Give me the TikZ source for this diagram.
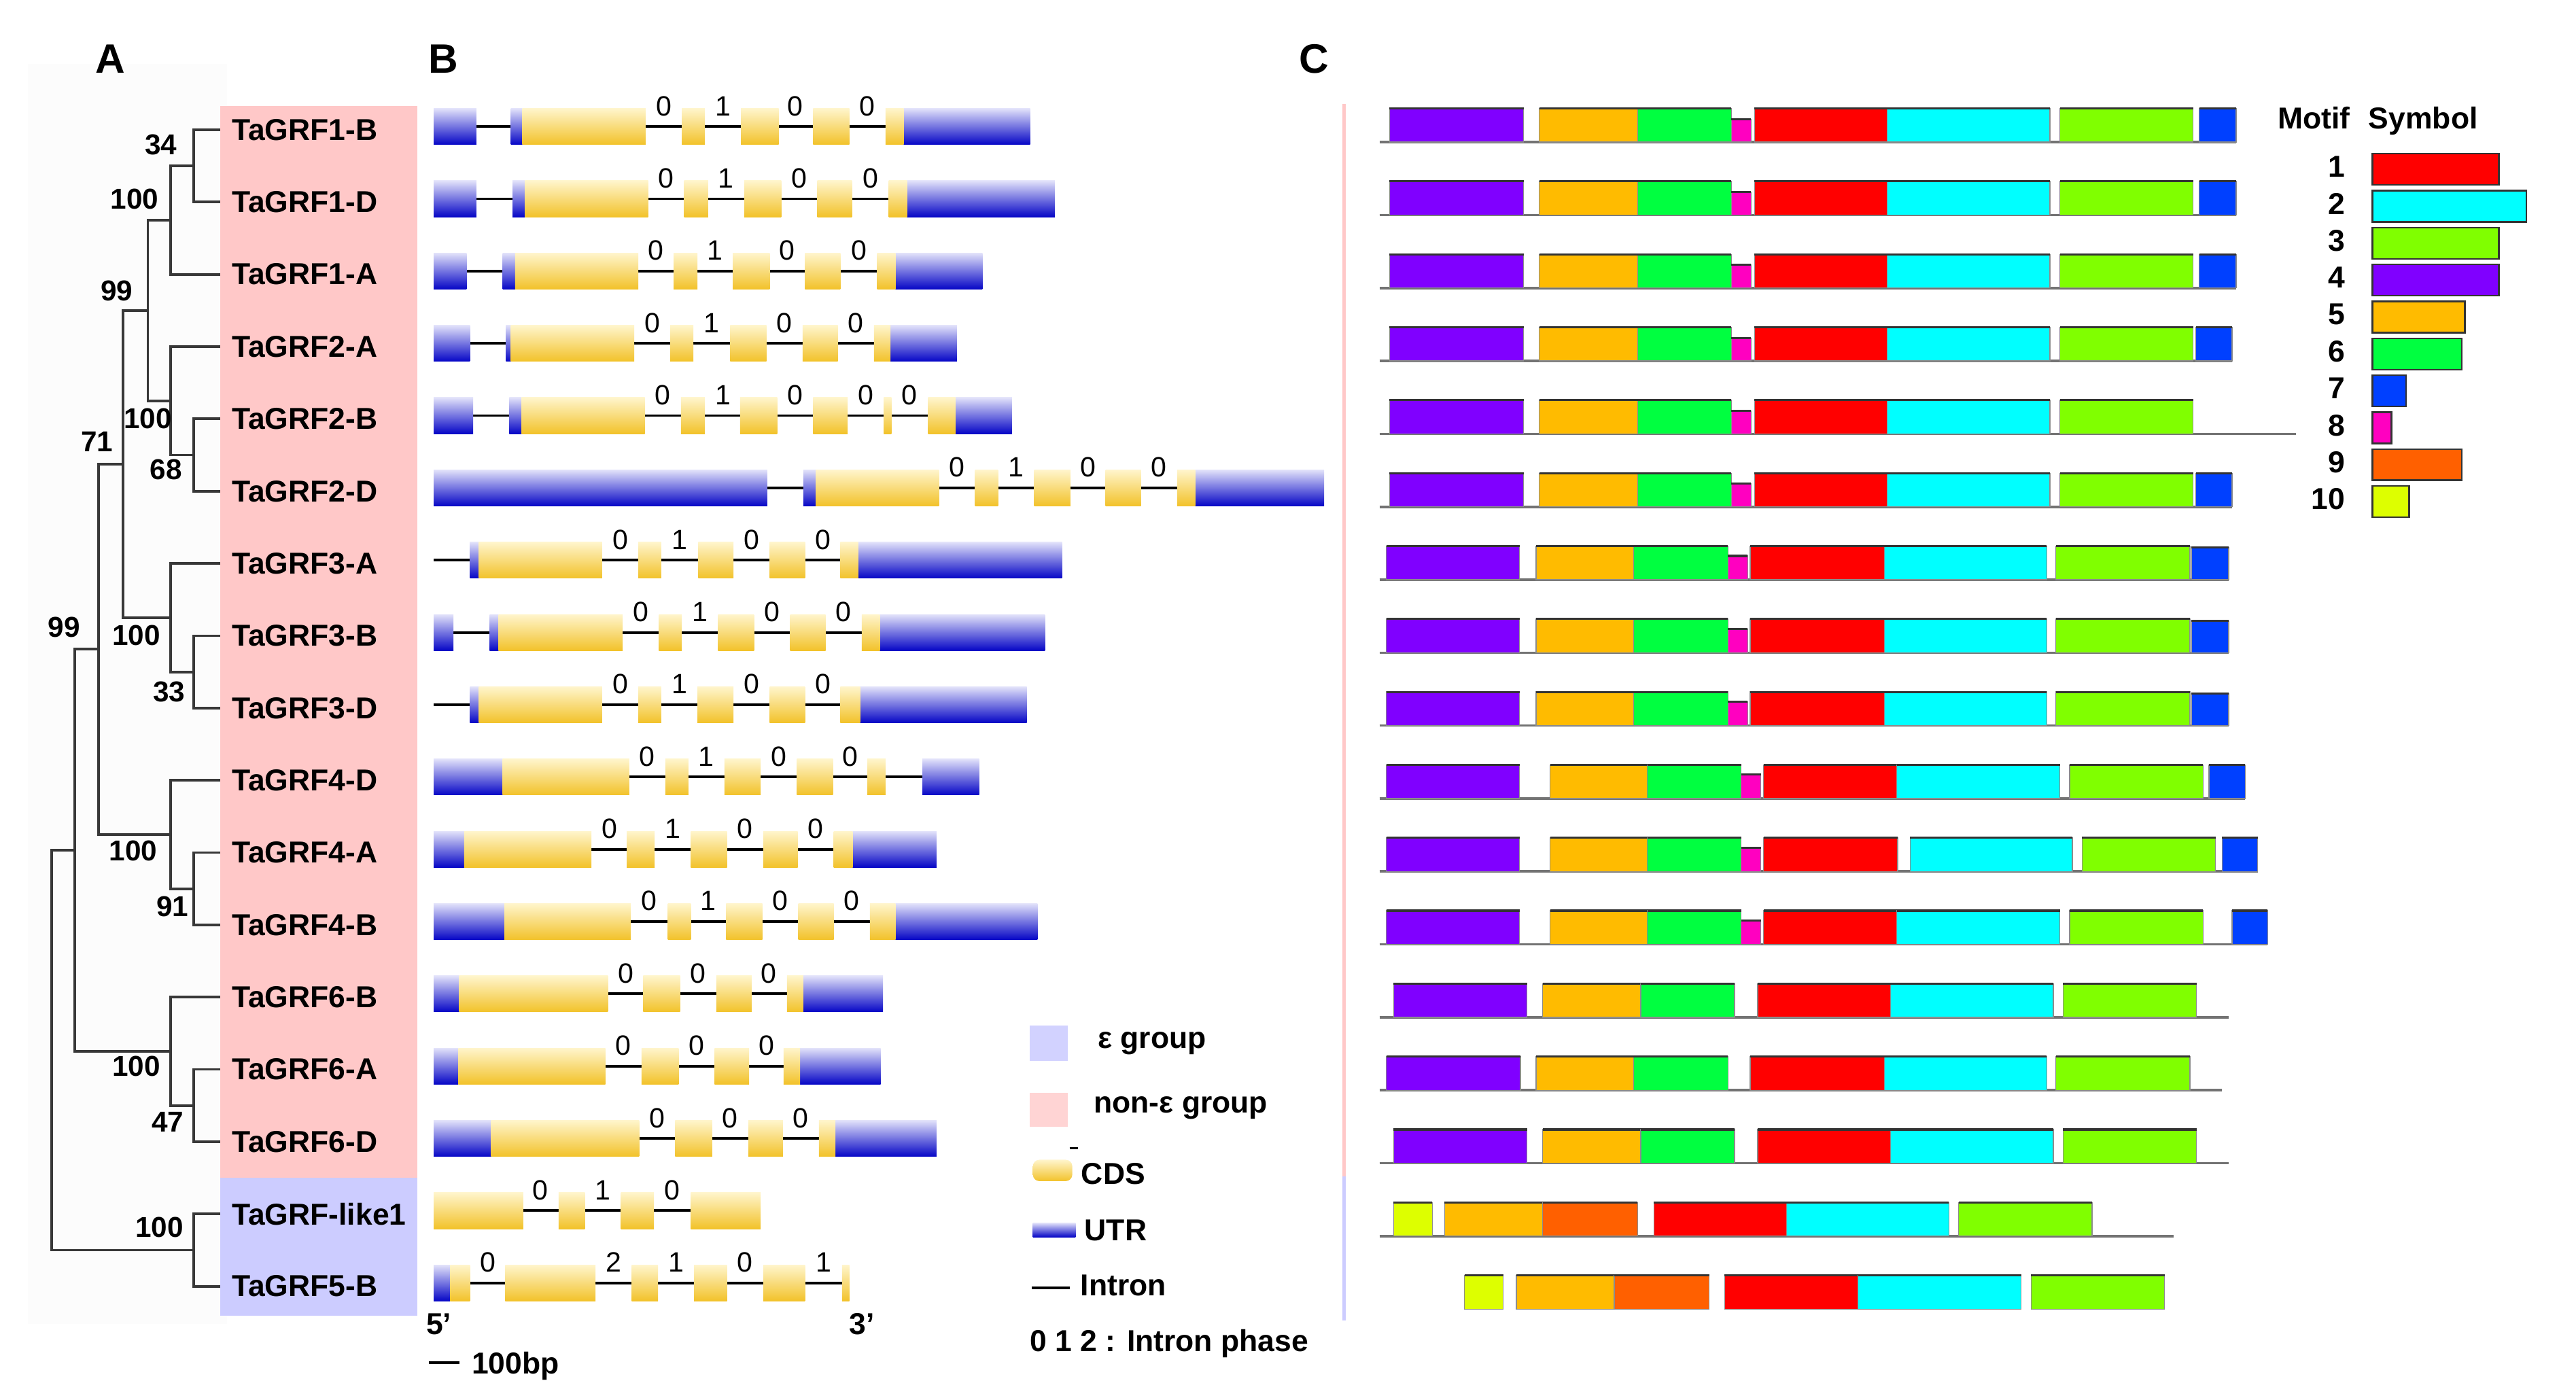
\documentclass[tikz,border=0pt]{standalone}
\usepackage{fontspec}
\setmainfont{Liberation Sans}
\usetikzlibrary{positioning}

\definecolor{nonepink}{HTML}{FFC8C8}
\definecolor{epsblue}{HTML}{CCCCFF}
\definecolor{legpink}{HTML}{FFD4D4}
\definecolor{legblue}{HTML}{D2D2FF}
\definecolor{utrtop}{HTML}{E2E2FA}
\definecolor{utrbot}{HTML}{0606C6}
\definecolor{cdstop}{HTML}{FFF5CC}
\definecolor{cdsbot}{HTML}{F2C22A}
\definecolor{m1}{HTML}{FF0000}
\definecolor{m2}{HTML}{00FFFF}
\definecolor{m3}{HTML}{80FF00}
\definecolor{m4}{HTML}{8000FF}
\definecolor{m5}{HTML}{FFBB00}
\definecolor{m6}{HTML}{00FF40}
\definecolor{m7}{HTML}{0040FF}
\definecolor{m8}{HTML}{FF00C0}
\definecolor{m9}{HTML}{FF6000}
\definecolor{m10}{HTML}{DDFF00}

\tikzset{
  branch/.style={draw=black!78, line width=1.6pt},
  taxon/.style={anchor=west, inner xsep=7pt, inner ysep=0pt, font=\bfseries\fontsize{18.4}{20}\selectfont},
  boot/.style={inner sep=0pt, font=\bfseries\fontsize{17.5}{19}\selectfont},
  panel/.style={inner sep=0pt, font=\bfseries\fontsize{25}{28}\selectfont},
  intron/.style={draw=black, line width=1.6pt},
  utr/.style={top color=utrtop, bottom color=utrbot},
  cds/.style={top color=cdstop, bottom color=cdsbot},
  phasenum/.style={inner sep=0pt, font=\fontsize{17}{19}\selectfont},
  legtext/.style={anchor=base west, inner sep=0pt, font=\bfseries\fontsize{18.4}{20}\selectfont},
  sideline/.style={line width=2pt},
  backbone/.style={draw=black!55, line width=1.5pt},
  motiftop/.style={draw=black!80, line width=1.3pt},
}

\newcommand{\exons}[3]{\foreach \a/\b in {#3}{\shade[#1] (\a,#2-11) rectangle (\b,#2+11);}}
\newcommand{\phases}[2]{\foreach \x/\p [count=\k] in {#2}{\node[phasenum] (ph#1n\k) at (\x,#1-12.5) {\p};}}
\newcommand{\backline}[2]{\draw[backbone] (839.7,#1+20.5) -- (#2,#1+20.5);}
\newcommand{\motifs}[2]{\foreach \c/\a/\b/\o in {#2}{%
  \filldraw[fill=\c, draw=black!45, line width=0.5pt] (\a,#1+\o) rectangle (\b,#1+20.5);
  \draw[motiftop] (\a,#1+\o) -- (\b,#1+\o);}}

\begin{document}
\begin{tikzpicture}[x=1pt, y=-1pt]
\useasboundingbox (0,0) rectangle (1568,852);
\fill[white] (0,0) rectangle (1568,852);

\fill[black!1] (17,39) rectangle (138,806);
\fill[nonepink] (134,64.5) rectangle (254,717);
\fill[epsblue] (134,717) rectangle (254,801);

\node[panel] (la) at (67,36) {A};
\node[panel] (lb) at (270,36) {B};
\node[panel] (lc) at (800,36) {C};

\node[taxon] (t1) at (134,79) {TaGRF1-B};
\node[taxon] (t2) at (134,123) {TaGRF1-D};
\node[taxon] (t3) at (134,167) {TaGRF1-A};
\node[taxon] (t4) at (134,211) {TaGRF2-A};
\node[taxon] (t5) at (134,255) {TaGRF2-B};
\node[taxon] (t6) at (134,299) {TaGRF2-D};
\node[taxon] (t7) at (134,343) {TaGRF3-A};
\node[taxon] (t8) at (134,387) {TaGRF3-B};
\node[taxon] (t9) at (134,431) {TaGRF3-D};
\node[taxon] (t10) at (134,475) {TaGRF4-D};
\node[taxon] (t11) at (134,519) {TaGRF4-A};
\node[taxon] (t12) at (134,563) {TaGRF4-B};
\node[taxon] (t13) at (134,607) {TaGRF6-B};
\node[taxon] (t14) at (134,651) {TaGRF6-A};
\node[taxon] (t15) at (134,695) {TaGRF6-D};
\node[taxon] (t16) at (134,739) {TaGRF-like1};
\node[taxon] (t17) at (134,783) {TaGRF5-B};

\coordinate (nA) at (118,101);
\coordinate (nB) at (104,134);
\coordinate (nD) at (118,277);
\coordinate (nE) at (104,244);
\coordinate (nF) at (90,189);
\coordinate (nG) at (118,409);
\coordinate (nH) at (104,376);
\coordinate (nI) at (75,282.5);
\coordinate (nJ) at (118,541);
\coordinate (nK) at (104,508);
\coordinate (nL) at (60,395);
\coordinate (nM) at (118,673);
\coordinate (nN) at (104,640);
\coordinate (nO) at (45.6,517.5);
\coordinate (nP) at (118,761);
\coordinate (root) at (31.4,639);

\draw[branch] (nA) |- (t1.west);
\draw[branch] (nA) |- (t2.west);
\draw[branch] (nB) |- (nA);
\draw[branch] (nB) |- (t3.west);
\draw[branch] (nD) |- (t5.west);
\draw[branch] (nD) |- (t6.west);
\draw[branch] (nE) |- (t4.west);
\draw[branch] (nE) |- (nD);
\draw[branch] (nF) |- (nB);
\draw[branch] (nF) |- (nE);
\draw[branch] (nG) |- (t8.west);
\draw[branch] (nG) |- (t9.west);
\draw[branch] (nH) |- (t7.west);
\draw[branch] (nH) |- (nG);
\draw[branch] (nI) |- (nF);
\draw[branch] (nI) |- (nH);
\draw[branch] (nJ) |- (t11.west);
\draw[branch] (nJ) |- (t12.west);
\draw[branch] (nK) |- (t10.west);
\draw[branch] (nK) |- (nJ);
\draw[branch] (nL) |- (nI);
\draw[branch] (nL) |- (nK);
\draw[branch] (nM) |- (t14.west);
\draw[branch] (nM) |- (t15.west);
\draw[branch] (nN) |- (t13.west);
\draw[branch] (nN) |- (nM);
\draw[branch] (nO) |- (nL);
\draw[branch] (nO) |- (nN);
\draw[branch] (nP) |- (t16.west);
\draw[branch] (nP) |- (t17.west);
\draw[branch] (root) |- (nO);
\draw[branch] (root) |- (nP);

\node[boot] (bA) at (98,88) {34};
\node[boot] (bB) at (82,121) {100};
\node[boot] (bF) at (71,177) {99};
\node[boot] (bE) at (90,255) {100};
\node[boot] (bD) at (101,286) {68};
\node[boot] (bI) at (59,269) {71};
\node[boot] (bL) at (39,382) {99};
\node[boot] (bH) at (83,387) {100};
\node[boot] (bG) at (103,421) {33};
\node[boot] (bK) at (81,518) {100};
\node[boot] (bJ) at (105,552) {91};
\node[boot] (bN) at (83,649) {100};
\node[boot] (bM) at (102,683) {47};
\node[boot] (bP) at (97,747) {100};

\draw[sideline, nonepink] (818,63.5) -- (818,716);
\draw[sideline, epsblue] (818,716) -- (818,804);

\draw[intron] (264,77) -- (627,77);
\exons{utr}{77}{264/290, 311/318, 550/627}
\exons{cds}{77}{318/393, 415/429, 451/474, 495/517, 539/550}
\phases{77}{404/0, 440/1, 484/0, 528/0}

\draw[intron] (264,121) -- (642,121);
\exons{utr}{121}{264/290, 312/319.5, 552/642}
\exons{cds}{121}{319.5/394.5, 416.5/431, 453/475.5, 497.5/518.5, 541/552}
\phases{121}{405.5/0, 442/1, 486.5/0, 530/0}

\draw[intron] (264,165) -- (598,165);
\exons{utr}{165}{264/284, 306/313.5, 545/598}
\exons{cds}{165}{313.5/388.5, 410/424.5, 446/468.5, 490/511.5, 534/545}
\phases{165}{399/0, 435/1, 479/0, 523/0}

\draw[intron] (264,209) -- (582.5,209);
\exons{utr}{209}{264/286, 308/311, 542/582.5}
\exons{cds}{209}{311/386, 408/422, 444.5/466.5, 488.5/510, 532/542}
\phases{209}{397/0, 433/1, 477.5/0, 521/0}

\draw[intron] (264,253) -- (616,253);
\exons{utr}{253}{264/288, 310/317.5, 581.5/616}
\exons{cds}{253}{317.5/392.5, 414.5/429, 450.5/473, 495/516, 538/542.5, 565/581.5}
\phases{253}{403.5/0, 440/1, 484/0, 527/0, 553.5/0}

\draw[intron] (264,297) -- (806,297);
\exons{utr}{297}{264/467, 489/496.5, 727.5/806}
\exons{cds}{297}{496.5/571.5, 593.5/607.5, 629.5/651.5, 673/694.5, 716.5/727.5}
\phases{297}{582.5/0, 618.5/1, 662.5/0, 705.5/0}

\draw[intron] (264,341) -- (646.5,341);
\exons{utr}{341}{286/291.5, 522.5/646.5}
\exons{cds}{341}{291.5/366.5, 388.5/402.5, 425/446.5, 468.5/490, 511.5/522.5}
\phases{341}{377.5/0, 413.5/1, 457.5/0, 501/0}

\draw[intron] (264,385) -- (636,385);
\exons{utr}{385}{264/276, 298/303.5, 535.5/636}
\exons{cds}{385}{303.5/379, 401/415, 437/459, 481/502.5, 524.5/535.5}
\phases{385}{390/0, 426/1, 470/0, 513.5/0}

\draw[intron] (264,429) -- (625,429);
\exons{utr}{429}{286/291.5, 523.5/625}
\exons{cds}{429}{291.5/366.5, 388.5/402.5, 424.5/446.5, 468.5/490, 511.5/523.5}
\phases{429}{377.5/0, 413.5/1, 457.5/0, 501/0}

\draw[intron] (264,473) -- (596,473);
\exons{utr}{473}{264/306, 561.5/596}
\exons{cds}{473}{306/383, 405/419, 441/463, 485/507, 528/539}
\phases{473}{394/0, 430/1, 474/0, 517.5/0}

\draw[intron] (264,517) -- (570,517);
\exons{utr}{517}{264/282.5, 519/570}
\exons{cds}{517}{282.5/360, 381.5/398.5, 420.5/442.5, 464.5/485.5, 507.5/519}
\phases{517}{371/0, 409.5/1, 453.5/0, 496.5/0}

\draw[intron] (264,561) -- (631.5,561);
\exons{utr}{561}{264/307, 545/631.5}
\exons{cds}{561}{307/384, 406.5/420.5, 442/464, 486/507.5, 529.5/545}
\phases{561}{395/0, 431/1, 475/0, 518.5/0}

\draw[intron] (264,605) -- (537.5,605);
\exons{utr}{605}{264/279.5, 489/537.5}
\exons{cds}{605}{279.5/370, 391.5/414, 436/457.5, 479/489}
\phases{605}{381/0, 425/0, 468/0}

\draw[intron] (264,649) -- (536,649);
\exons{utr}{649}{264/279, 487/536}
\exons{cds}{649}{279/368.5, 390.5/413, 435/456, 477/487}
\phases{649}{379.5/0, 424/0, 466.5/0}

\draw[intron] (264,693) -- (570,693);
\exons{utr}{693}{264/299, 508.5/570}
\exons{cds}{693}{299/389, 411/433.5, 455.5/476.5, 498.5/508.5}
\phases{693}{400/0, 444.5/0, 487.5/0}

\draw[intron] (264,737) -- (463,737);
\exons{cds}{737}{264/318.5, 340/356, 378/398, 420.5/463}
\phases{737}{329/0, 367/1, 409/0}

\draw[intron] (264,781) -- (517,781);
\exons{utr}{781}{264/274}
\exons{cds}{781}{274/286, 307.5/362.5, 384.5/400.5, 422.5/442.5, 464.5/490, 512.5/517}
\phases{781}{297/0, 373.5/2, 411.5/1, 453.5/0, 501.5/1}

\node[legtext] (five) at (259.3,812.2) {5’};
\node[legtext] (three) at (516.8,812.2) {3’};
\draw[line width=1.8pt] (261,829.6) coordinate (sb1) -- (279.6,829.6) coordinate (sb2);
\node[legtext] (scale) at (287,836.2) {100bp};

\fill[legblue] (626.8,624.4) rectangle (650.1,645.8);
\node[legtext] (leps) at (668,638.3) {ε group};
\fill[legpink] (626.8,665.3) rectangle (650.1,685.8);
\node[legtext] (lnon) at (665.6,677.4) {non-ε group};
\draw[line width=1pt] (651,699) -- (656,699);
\shade[cds, rounded corners=4pt] (628.7,706) rectangle (652.7,719);
\node[legtext] (lcds) at (658,720.9) {CDS};
\shade[utr] (628.7,744.4) rectangle (654.6,753);
\node[legtext] (lutr) at (660,755.2) {UTR};
\draw[line width=1.8pt] (628,784) -- (651,784);
\node[legtext] (lint) at (657.5,788.7) {Intron};
\node[legtext] (lpha) at (626.8,822.6) {0 1 2 : Intron phase};

\backline{66}{1361.1}
\motifs{66}{m4/845.8/927.5/0, m5/937/996.7/0, m6/996.7/1053.8/0, m8/1053.8/1065.9/6.5, m1/1067.9/1148.6/0, m2/1148.6/1247.8/0, m3/1253.8/1335/0, m7/1338.6/1361.1/0}
\backline{110.4}{1361.1}
\motifs{110.4}{m4/845.8/927.5/0, m5/937/996.7/0, m6/996.7/1053.8/0, m8/1053.8/1065.9/6.5, m1/1067.9/1148.6/0, m2/1148.6/1247.8/0, m3/1253.8/1335/0, m7/1338.6/1361.1/0}
\backline{154.8}{1361.1}
\motifs{154.8}{m4/845.8/927.5/0, m5/937/996.7/0, m6/996.7/1053.8/0, m8/1053.8/1065.9/6.5, m1/1067.9/1148.6/0, m2/1148.6/1247.8/0, m3/1253.8/1335/0, m7/1338.6/1361.1/0}
\backline{199.2}{1358.6}
\motifs{199.2}{m4/845.8/927.5/0, m5/937/996.7/0, m6/996.7/1053.8/0, m8/1053.8/1065.9/6.5, m1/1067.9/1148.6/0, m2/1148.6/1247.8/0, m3/1253.8/1335/0, m7/1336.6/1358.6/0}
\backline{243.6}{1397.7}
\motifs{243.6}{m4/845.8/927.5/0, m5/937/996.7/0, m6/996.7/1053.8/0, m8/1053.8/1065.9/6.5, m1/1067.9/1148.6/0, m2/1148.6/1247.8/0, m3/1253.8/1335/0}
\backline{288}{1358.6}
\motifs{288}{m4/845.8/927.5/0, m5/937/996.7/0, m6/996.7/1053.8/0, m8/1053.8/1065.9/6.5, m1/1067.9/1148.6/0, m2/1148.6/1247.8/0, m3/1253.8/1335/0, m7/1336.6/1358.6/0}
\backline{332.4}{1356.6}
\motifs{332.4}{m4/843.8/925/0, m5/935/994.2/0, m6/994.2/1051.8/0, m8/1051.8/1063.8/6, m1/1065.3/1147/0, m2/1147/1245.8/0, m3/1251.3/1333/0, m7/1334/1356.6/1}
\backline{376.8}{1356.6}
\motifs{376.8}{m4/843.8/925/0, m5/935/994.2/0, m6/994.2/1051.8/0, m8/1051.8/1063.8/6, m1/1065.3/1147/0, m2/1147/1245.8/0, m3/1251.3/1333/0, m7/1334/1356.6/1}
\backline{421.2}{1356.6}
\motifs{421.2}{m4/843.8/925/0, m5/935/994.2/0, m6/994.2/1051.8/0, m8/1051.8/1063.8/6, m1/1065.3/1147/0, m2/1147/1245.8/0, m3/1251.3/1333/0, m7/1334/1356.6/1}
\backline{465.6}{1366.6}
\motifs{465.6}{m4/843.8/925/0, m5/943.5/1002.7/0, m6/1002.7/1059.8/0, m8/1059.8/1071.8/6, m1/1073.4/1154.6/0, m2/1154.6/1253.8/0, m3/1259.8/1341/0, m7/1344.6/1366.6/0}
\backline{510}{1374.2}
\motifs{510}{m4/843.8/925/0, m5/943.5/1002.7/0, m6/1002.7/1059.8/0, m8/1059.8/1071.8/6, m1/1073.4/1155.1/0, m2/1162.6/1261.4/0, m3/1267.4/1348.6/0, m7/1352.6/1374.2/0}
\backline{554.4}{1380.2}
\motifs{554.4}{m4/843.8/925/0, m5/943.5/1002.7/0, m6/1002.7/1059.8/0, m8/1059.8/1071.8/6, m1/1073.4/1154.6/0, m2/1154.6/1253.8/0, m3/1259.8/1341/0, m7/1358.6/1380.2/0}
\backline{598.8}{1356.6}
\motifs{598.8}{m4/848.3/929.5/0, m5/939/998.7/0, m6/998.7/1055.8/0, m1/1069.9/1150.6/0, m2/1150.6/1249.8/0, m3/1255.8/1337/0}
\backline{643.2}{1352.6}
\motifs{643.2}{m4/843.8/925.5/0, m5/935/994.2/0, m6/994.2/1051.8/0, m1/1065.3/1147/0, m2/1147/1245.8/0, m3/1251.3/1333/0}
\backline{687.6}{1356.6}
\motifs{687.6}{m4/848.3/929.5/0, m5/939/998.7/0, m6/998.7/1055.8/0, m1/1069.9/1150.6/0, m2/1150.6/1249.8/0, m3/1255.8/1337/0}
\backline{732}{1322.9}
\motifs{732}{m10/848.3/871.8/0, m5/879.3/939/0, m9/939/996.7/0, m1/1006.7/1087.4/0, m2/1087.4/1186.2/0, m3/1192.2/1273.4/0}
\motifs{776.4}{m10/891.4/915/0, m5/923/982.6/0, m9/982.6/1040.3/0, m1/1049.8/1131/0, m2/1131/1230.3/0, m3/1236.3/1317.5/0}

\node[legtext, anchor=base] (motif) at (1408.5,78.3) {Motif};
\node[legtext, anchor=base] (symbol) at (1475,78.3) {Symbol};
\foreach \i/\c/\w in {1/m1/77, 2/m2/93.8, 3/m3/77, 4/m4/77, 5/m5/56.3, 6/m6/54.5, 7/m7/20.6, 8/m8/11.6, 9/m9/54.5, 10/m10/22.4}{
  \filldraw[fill=\c, draw=black!80, line width=1pt] (1444,93.6+22.47*\i-22.47) rectangle (1444+\w,112.6+22.47*\i-22.47);
  \node[legtext, anchor=east] (num\i) at (1427.5,101.6+22.47*\i-22.47) {\i};
}
\end{tikzpicture}
\end{document}
